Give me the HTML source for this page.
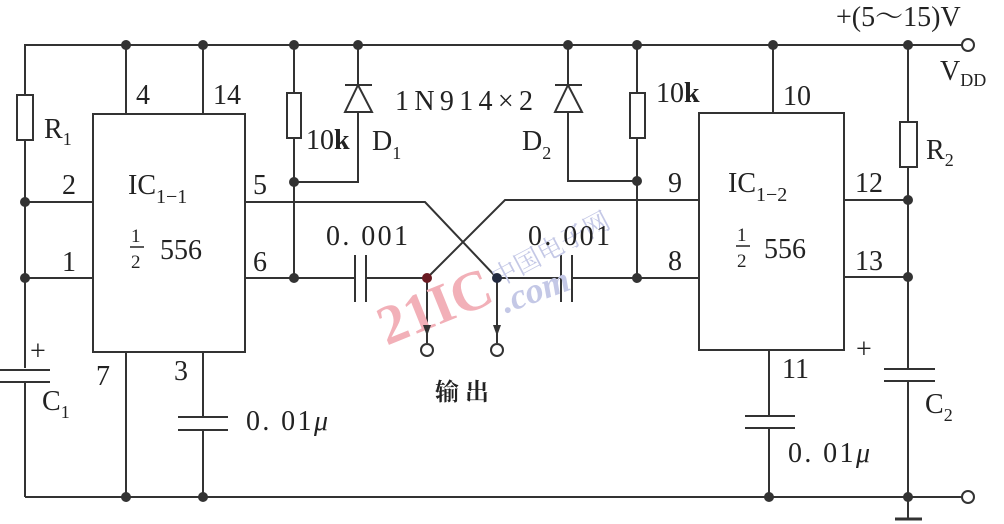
<!DOCTYPE html>
<html><head><meta charset="utf-8"><style>
body{margin:0;background:#fff;}
svg{display:block;}
text{font-family:"Liberation Serif","Noto Serif CJK SC",serif;fill:#222;}
</style></head><body>
<svg width="1004" height="524" viewBox="0 0 1004 524" xmlns="http://www.w3.org/2000/svg">
<g stroke="#333" stroke-width="2" fill="none">
<polyline points="25,95 25,45 962,45"/>
<line x1="25" y1="497" x2="962" y2="497"/>
<circle cx="968" cy="45" r="6" fill="#fff"/>
<circle cx="968" cy="497" r="6" fill="#fff"/>
<line x1="908" y1="497" x2="908" y2="518"/>
<line x1="895" y1="519" x2="922" y2="519" stroke-width="3"/>
<rect x="17" y="95" width="16" height="45" fill="#fff"/>
<line x1="25" y1="140" x2="25" y2="368"/>
<line x1="25" y1="382" x2="25" y2="497"/>
<line x1="0" y1="370" x2="50" y2="370"/><line x1="0" y1="382" x2="50" y2="382"/>
<rect x="93" y="114" width="152" height="238"/>
<line x1="126" y1="45" x2="126" y2="114"/><line x1="203" y1="45" x2="203" y2="114"/>
<line x1="25" y1="202" x2="93" y2="202"/><line x1="25" y1="278" x2="93" y2="278"/>
<line x1="126" y1="352" x2="126" y2="497"/>
<line x1="203" y1="352" x2="203" y2="417"/><line x1="203" y1="430" x2="203" y2="497"/>
<line x1="178" y1="417" x2="228" y2="417"/><line x1="178" y1="430" x2="228" y2="430"/>
<line x1="294" y1="45" x2="294" y2="93"/>
<rect x="287" y="93" width="14" height="45" fill="#fff"/>
<line x1="294" y1="138" x2="294" y2="278"/>
<polyline points="358,45 358,182 294,182"/>
<line x1="345" y1="85" x2="372" y2="85"/>
<polygon points="358,85 345,112 372,112" fill="#fff"/>
<polyline points="245,202 425,202 497,278"/>
<line x1="245" y1="278" x2="355" y2="278"/>
<line x1="355" y1="255" x2="355" y2="302"/><line x1="366" y1="255" x2="366" y2="302"/>
<line x1="366" y1="278" x2="427" y2="278"/>
<polyline points="699,200 505,200 427,278"/>
<line x1="497" y1="278" x2="561" y2="278"/>
<line x1="561" y1="255" x2="561" y2="302"/><line x1="572" y1="255" x2="572" y2="302"/>
<line x1="572" y1="278" x2="699" y2="278"/>
<line x1="427" y1="278" x2="427" y2="343"/><line x1="497" y1="278" x2="497" y2="343"/>
<circle cx="427" cy="350" r="6" fill="#fff"/><circle cx="497" cy="350" r="6" fill="#fff"/>
<polyline points="568,45 568,181 637,181"/>
<line x1="555" y1="85" x2="582" y2="85"/>
<polygon points="568,85 555,112 582,112" fill="#fff"/>
<line x1="637" y1="45" x2="637" y2="93"/>
<rect x="630" y="93" width="15" height="45" fill="#fff"/>
<line x1="637" y1="138" x2="637" y2="278"/>
<rect x="699" y="113" width="145" height="237"/>
<line x1="773" y1="45" x2="773" y2="113"/>
<line x1="769" y1="350" x2="769" y2="416"/><line x1="769" y1="428" x2="769" y2="497"/>
<line x1="745" y1="416" x2="795" y2="416"/><line x1="745" y1="428" x2="795" y2="428"/>
<line x1="844" y1="200" x2="908" y2="200"/><line x1="844" y1="277" x2="908" y2="277"/>
<line x1="908" y1="45" x2="908" y2="122"/>
<rect x="900" y="122" width="17" height="45" fill="#fff"/>
<line x1="908" y1="167" x2="908" y2="369"/><line x1="908" y1="381" x2="908" y2="497"/>
<line x1="884" y1="369" x2="935" y2="369"/><line x1="884" y1="381" x2="935" y2="381"/>
</g>
<text x="372" y="330" font-family="Liberation Sans,sans-serif" font-weight="bold" font-size="56" style="fill:#f2b0b8" transform="rotate(-22 420 300)">21IC</text>
<text x="480" y="262" font-family="Noto Sans CJK SC,sans-serif" font-size="26" style="fill:#c4c8e6" transform="rotate(-28 540 240)">中国电子网</text>
<text x="498" y="300" font-family="Liberation Sans,sans-serif" font-weight="bold" font-style="italic" font-size="36" style="fill:#c4c8e6" transform="rotate(-20 540 285)">.com</text>
<g fill="#333">
<polygon points="423,325 431,325 427,336"/><polygon points="493,325 501,325 497,336"/>
<circle cx="126" cy="45" r="5"/><circle cx="203" cy="45" r="5"/><circle cx="294" cy="45" r="5"/><circle cx="358" cy="45" r="5"/>
<circle cx="568" cy="45" r="5"/><circle cx="637" cy="45" r="5"/><circle cx="773" cy="45" r="5"/><circle cx="908" cy="45" r="5"/>
<circle cx="25" cy="202" r="5"/><circle cx="25" cy="278" r="5"/>
<circle cx="294" cy="182" r="5"/><circle cx="294" cy="278" r="5"/>
<circle cx="637" cy="181" r="5"/><circle cx="637" cy="278" r="5"/>
<circle cx="427" cy="278" r="5" fill="#6a1a22"/><circle cx="497" cy="278" r="5" fill="#222a40"/>
<circle cx="908" cy="200" r="5"/><circle cx="908" cy="277" r="5"/>
<circle cx="126" cy="497" r="5"/><circle cx="203" cy="497" r="5"/><circle cx="769" cy="497" r="5"/><circle cx="908" cy="497" r="5"/>
</g>
<g font-size="28">
<text x="44" y="138">R<tspan font-size="18" dy="7">1</tspan></text>
<text x="62" y="194">2</text><text x="62" y="271">1</text>
<text x="136" y="104">4</text><text x="213" y="104">14</text>
<text x="128" y="194">IC<tspan font-size="20" dy="9">1−1</tspan></text>
<text x="253" y="194">5</text><text x="253" y="271">6</text>
<text x="306" y="149">10<tspan font-weight="bold">k</tspan></text>
<text x="372" y="150">D<tspan font-size="18" dy="9">1</tspan></text>
<text x="395" y="110" textLength="138">1N914×2</text>
<text x="522" y="150">D<tspan font-size="18" dy="9">2</tspan></text>
<text x="656" y="102">10<tspan font-weight="bold">k</tspan></text>
<text x="326" y="245" textLength="82">0. 001</text><text x="528" y="245" textLength="82">0. 001</text>
<text x="668" y="192">9</text><text x="668" y="270">8</text>
<text x="783" y="105">10</text>
<text x="728" y="192">IC<tspan font-size="20" dy="9">1−2</tspan></text>
<text x="855" y="192">12</text><text x="855" y="270">13</text>
<text x="926" y="159">R<tspan font-size="18" dy="7">2</tspan></text>
<text x="96" y="385">7</text><text x="174" y="380">3</text>
<text x="246" y="430" textLength="82">0. 01<tspan font-style="italic">μ</tspan></text>
<text x="782" y="378">11</text>
<text x="788" y="462" textLength="82">0. 01<tspan font-style="italic">μ</tspan></text>
<text x="42" y="410">C<tspan font-size="18" dy="8">1</tspan></text>
<text x="925" y="413">C<tspan font-size="18" dy="8">2</tspan></text>
<text x="30" y="360">+</text><text x="856" y="358">+</text>
<text x="836" y="26">+(5～15)V</text>
<text x="940" y="80">V<tspan font-size="18" dy="6">DD</tspan></text>
</g>
<g font-size="28">
<text x="131" y="242" font-size="19">1</text><line x1="130" y1="247" x2="144" y2="247" stroke="#222" stroke-width="1.5"/><text x="131" y="268" font-size="19">2</text>
<text x="160" y="259">556</text>
<text x="737" y="241" font-size="19">1</text><line x1="736" y1="246" x2="750" y2="246" stroke="#222" stroke-width="1.5"/><text x="737" y="267" font-size="19">2</text>
<text x="764" y="258">556</text>
</g>
<text x="435" y="400" font-family="Noto Sans CJK SC,sans-serif" font-size="24" font-weight="bold">输 出</text>
</svg>
</body></html>
